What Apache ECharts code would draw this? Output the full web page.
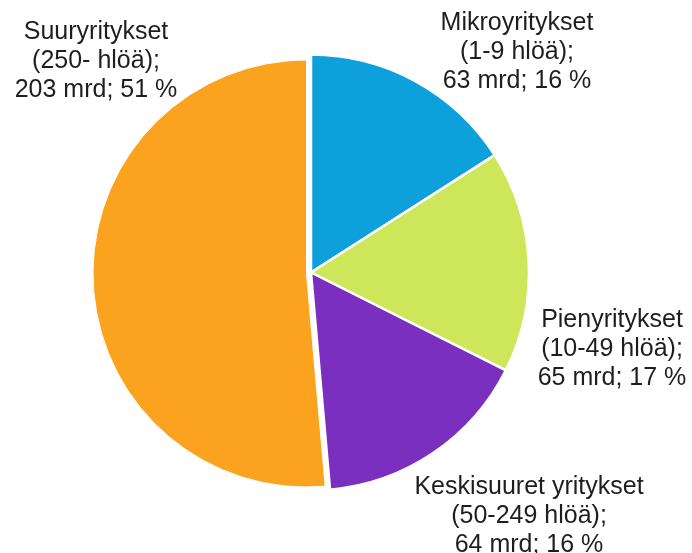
<!DOCTYPE html>
<html>
<head>
<meta charset="utf-8">
<script src="https://cdn.jsdelivr.net/npm/echarts@6/dist/echarts.min.js"></script>
<style>
  html, body { margin: 0; padding: 0; background: #fff; }
  #main { width: 692px; height: 553px; }
</style>
</head>
<body>
<div id="main"></div>
<script>
// data, clockwise from 12 o'clock
var names = ['Mikroyritykset', 'Pienyritykset', 'Keskisuuret yritykset', 'Suuryritykset'];
var sizes = ['(1-9 hlöä);', '(10-49 hlöä);', '(50-249 hlöä);', '(250- hlöä);'];
var values = [63, 65, 64, 203];
var percents = [16, 17, 16, 51];
var colors = ['#0ea0da', '#cde65a', '#7b2fbf', '#fba31e'];

// exploded slice (drawn a bit smaller and pulled left, like the original)
var explodedIndex = 3;

// centre of each label block
var labelPos = [[517, 52], [612, 349], [529, 516], [96, 61]];

var chart = echarts.init(document.getElementById('main'), null, { renderer: 'canvas' });

function pieData(showExploded) {
  return values.map(function (v, i) {
    var visible = (i === explodedIndex) === showExploded;
    return {
      name: names[i],
      value: v,
      itemStyle: visible
        ? { color: colors[i] }
        : { color: 'rgba(0,0,0,0)', borderWidth: 0 }
    };
  });
}

var labelFont = 'Liberation Sans, Arial, sans-serif';

var option = {
  animation: false,
  graphic: values.map(function (v, i) {
    return {
      type: 'text',
      x: labelPos[i][0],
      y: labelPos[i][1],
      z: 10,
      style: {
        text: names[i] + '\n' + sizes[i] + '\n' + values[i] + ' mrd; ' + percents[i] + ' %',
        fontFamily: labelFont,
        fontSize: 25,
        lineHeight: 29,
        fill: '#1e1e1e',
        align: 'center',
        verticalAlign: 'middle'
      }
    };
  }),
  series: [
    {
      type: 'pie',
      center: [311, 272.5],
      radius: 218,
      startAngle: 90,
      clockwise: true,
      silent: true,
      itemStyle: { borderColor: '#fff', borderWidth: 2.5 },
      label: { show: false },
      labelLine: { show: false },
      data: pieData(false)
    },
    {
      type: 'pie',
      center: [306.5, 273.5],
      radius: 213.5,
      startAngle: 90,
      clockwise: true,
      silent: true,
      itemStyle: { borderColor: '#fff', borderWidth: 1 },
      label: { show: false },
      labelLine: { show: false },
      data: pieData(true)
    }
  ]
};

chart.setOption(option);
</script>
</body>
</html>
